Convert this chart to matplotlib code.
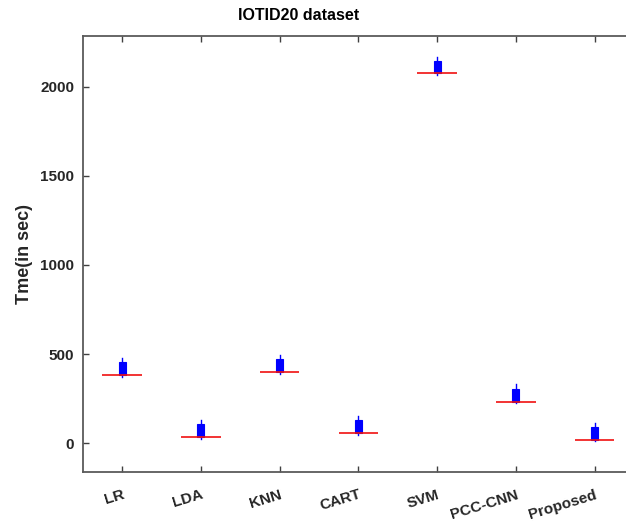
import matplotlib
matplotlib.use("Agg")
import matplotlib.pyplot as plt
import numpy as np

categories = ["LR", "LDA", "KNN", "CART", "SVM", "PCC-CNN", "Proposed"]
base_vals = [385, 34, 400, 58, 2075, 233, 19]          # red lines
box_top = [458, 107, 475, 131, 2146, 306, 92]         # top of blue box
whisker_top = [479, 131, 496, 155, 2168, 331, 114]    # upper whisker end
whisker_bottom = [374, 24, 390, 48, 2065, 223, 10]    # lower whisker end

plt.rcParams['font.family'] = ['Liberation Sans', 'DejaVu Sans']
fig = plt.figure(figsize=(6.26, 5.24), dpi=100)
ax = fig.add_axes([82.7/626, 1-472.3/524, (634-82.7)/626, (472.3-36)/524])

x = np.arange(1, len(categories) + 1)
stats = []
for i in range(len(categories)):
    stats.append(dict(med=base_vals[i], q1=base_vals[i], q3=box_top[i],
                      whislo=whisker_bottom[i], whishi=whisker_top[i], fliers=[]))
ax.bxp(stats, positions=x, widths=0.09, patch_artist=True, showcaps=False,
       showfliers=False,
       boxprops=dict(facecolor='#0000ff', edgecolor='#0000ff', linewidth=0.8),
       whiskerprops=dict(color='#0000ff', linewidth=1.0),
       medianprops=dict(linewidth=0))
ax.hlines(base_vals, x - 0.25, x + 0.25, colors='#f01010', linewidth=1.2, zorder=3)

ax.set_xlim(0.5, 7.5)
ax.set_ylim(-163, 2284)
ax.set_xticks(x)
ax.set_xticklabels(categories, rotation=17, ha='right', rotation_mode='anchor',
                   fontsize=11, fontweight='bold', color='#262626')
ax.set_yticks([0, 500, 1000, 1500, 2000])
ax.set_yticklabels(['0', '500', '1000', '1500', '2000'], fontsize=11,
                   fontweight='bold', color='#262626')
ax.tick_params(axis='both', direction='in', length=4, width=1.0, color='#404040',
               top=True, right=True)
ax.tick_params(axis='x', pad=11)
ax.tick_params(axis='y', pad=6)
for s in ax.spines.values():
    s.set_color('#5a5a5a')
    s.set_linewidth(1.3)
ax.set_ylabel('Tme(in sec)', fontsize=13, fontweight='bold', color='#262626')
ax.yaxis.set_label_coords(-0.09, 0.5)
fig.text(299/626, 1-15/524, 'IOTID20 dataset', fontsize=11.5, fontweight='bold',
         color='#000000', ha='center', va='center')

fig.savefig('out.png', dpi=100)
